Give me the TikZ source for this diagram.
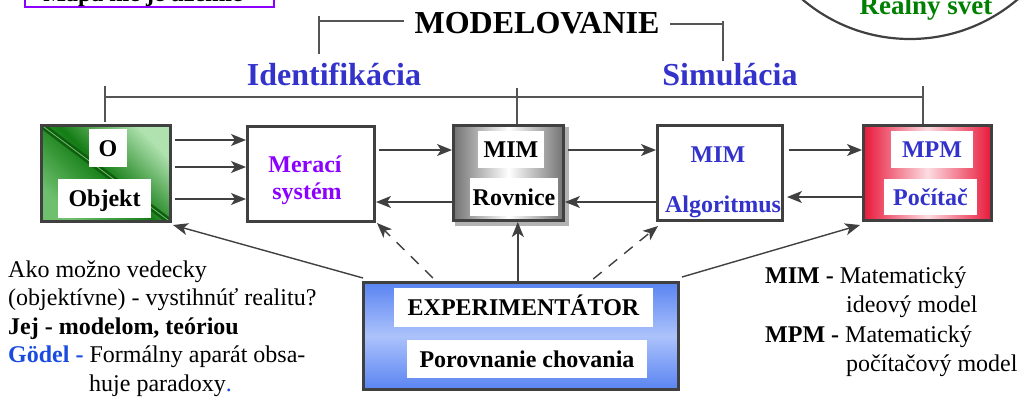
\documentclass[tikz,border=0pt]{standalone}
\usepackage{fontspec}
\setmainfont{Liberation Serif}
\usetikzlibrary{arrows.meta,calc}
\definecolor{edge}{RGB}{64,64,64}
\definecolor{lblue}{RGB}{51,51,204}
\definecolor{gblue}{RGB}{26,75,224}
\definecolor{purp}{RGB}{140,0,255}
\definecolor{rgreen}{RGB}{0,128,0}
\definecolor{gdark}{RGB}{20,125,20}
\definecolor{glight}{RGB}{176,226,176}
\definecolor{gmid}{RGB}{110,192,110}
\definecolor{mred}{RGB}{232,24,58}
\definecolor{eblue}{RGB}{90,132,242}
\definecolor{elight}{RGB}{172,194,251}
\definecolor{brkc}{RGB}{85,85,85}
\begin{document}
\begin{tikzpicture}[x=1pt,y=-1pt,
  box/.style={draw=edge, line width=3.2pt, inner sep=0pt},
  lbl/.style={fill=white, inner sep=0pt, text height=16pt, text depth=0pt,
    font=\fontsize{24}{28}\selectfont\bfseries},
  arr/.style={draw=edge, line width=1.4pt, -{Stealth[length=15pt,width=12pt,inset=4pt]}},
  dsh/.style={arr, dash pattern=on 11pt off 9pt},
  brk/.style={draw=brkc, line width=1.3pt},
  txt/.style={font=\fontsize{24}{28}\selectfont, inner sep=0pt, anchor=base west},
  head/.style={font=\fontsize{32}{36}\selectfont\bfseries, inner sep=0pt, anchor=base}]
\useasboundingbox (0,0) rectangle (1023,397);
\clip (0,0) rectangle (1023,397);

% top decorations (cut by the page, as in the reference)
\draw[purp, line width=2.5pt] (25,-30) rectangle (274,7);
\node[font=\fontsize{24}{28}\selectfont\bfseries, inner sep=0pt, anchor=base] (mapa) at (143,1) {Mapa nie je územie};
\draw[edge, line width=2.2pt] (910,-127) circle[radius=166pt];
\node[font=\fontsize{27}{30}\selectfont\bfseries, text=rgreen, inner sep=0pt, anchor=base] (svet) at (926,14) {Reálny svet};

% headings
\node[head] (model) at (537,33) {MODELOVANIE};
\draw[brk] (319,16) -- (319,54);
\draw[brk] (319,21) -- (404,21);
\draw[brk] (670,24) -- (723,24);
\draw[brk] (723,21) -- (723,61);
\node[head, text=lblue] (ident) at (334,85) {Identifikácia};
\node[head, text=lblue] (simul) at (730,85) {Simulácia};

% boxes
\node[box, minimum width=128.8, minimum height=95.8,
  top color=glight, bottom color=gmid, middle color=gdark, shading angle=-45] (o) at (106,173.5) {};
\begin{scope}
  \clip ($(o.north west)+(3.2,3.2)$) rectangle ($(o.south east)+(-3.2,-3.2)$);
  \draw[line width=6pt, gdark!75!black] (o.north west) -- (o.south east);
  \draw[line width=0.8pt, gmid] (o.north west) -- (o.south east);
\end{scope}
\node[lbl, minimum width=38, minimum height=38] (olbl) at (108,148) {O};
\node[lbl, minimum width=93, minimum height=39] (objlbl) at (104.5,198.5) {Objekt};

\node[box, minimum width=126.8, minimum height=94.8, fill=white] (mer) at (311,174) {};
\node[font=\fontsize{24}{28}\selectfont\bfseries, text=purp, inner sep=0pt, anchor=base] (mert1) at (305,172) {Merací};
\node[font=\fontsize{24}{28}\selectfont\bfseries, text=purp, inner sep=0pt, anchor=base] (mert2) at (307,199) {systém};

\fill[black!30] (455,127) rectangle (569,226);
\node[box, minimum width=109.8, minimum height=94.8,
  left color=black!55, right color=black!55, middle color=white] (mim) at (508.5,173) {};
\node[lbl, minimum width=66, minimum height=37] (mimlbl) at (511,149.5) {MIM};
\node[lbl, minimum width=88, minimum height=38] (rovlbl) at (514,197) {Rovnice};

\node[box, minimum width=124.8, minimum height=94.8, fill=white] (alg) at (720,173) {};
\node[font=\fontsize{24}{28}\selectfont\bfseries, text=lblue, inner sep=0pt, anchor=base] (algt1) at (718,162) {MIM};
\node[font=\fontsize{24}{28}\selectfont\bfseries, text=lblue, inner sep=0pt, anchor=base] (algt2) at (723,212) {Algoritmus};

\node[box, minimum width=127.8, minimum height=94.8,
  left color=mred, right color=mred, middle color=mred!15] (mpm) at (927.5,173) {};
\node[lbl, text=lblue, minimum width=82, minimum height=37] (mpmlbl) at (932,149.5) {MPM};
\node[lbl, text=lblue, minimum width=93, minimum height=36] (poclbl) at (930.5,197) {Počítač};

\node[box, minimum width=314.8, minimum height=106.8,
  top color=eblue, bottom color=eblue, middle color=elight] (exp) at (521,336) {};
\node[lbl, minimum width=259, minimum height=39] (explbl) at (523.5,307.5) {EXPERIMENTÁTOR};
\node[lbl, minimum width=240, minimum height=38] (porlbl) at (527,359) {Porovnanie chovania};

% bracket over the boxes
\draw[brk] (105,97) -- (923,97);
\draw[brk] (105,86) -- (105,122);
\draw[brk] (517,88) -- (517,124);
\draw[brk] (923,86) -- (923,124);

% horizontal arrows
\draw[arr] ($(o.east)+(3,-33.5)$) coordinate (a1) -- (a1 -| mer.west);
\draw[arr] ($(o.east)+(3,-6.5)$) coordinate (a2) -- (a2 -| mer.west);
\draw[arr] ($(o.east)+(3,25.5)$) coordinate (a3) -- (a3 -| mer.west);
\draw[arr] ($(mer.east)+(3,-24)$) coordinate (a4) -- (a4 -| mim.west);
\draw[arr] ($(mim.west)+(0,29)$) coordinate (a5) -- (a5 -| mer.east);
\draw[arr] ($(mim.east)+(3,-23)$) coordinate (a6) -- (a6 -| alg.west);
\draw[arr] ($(alg.west)+(0,29)$) coordinate (a7) -- (a7 -| mim.east);
\draw[arr] ($(alg.east)+(5,-23)$) coordinate (a8) -- (a8 -| mpm.west);
\draw[arr, shorten >=3pt] ($(mpm.west)+(0,24)$) coordinate (a9) -- (a9 -| alg.east);

% arrows from the experimenter
\draw[arr] ($(exp.north west)+(1,-3)$) -- ($(o.south east)+(1,2)$);
\draw[dsh] ($(exp.north west)!0.223!(exp.north east)+(0,-3)$) -- ($(mer.south east)+(1,0)$);
\draw[arr] ($(exp.north west)!0.49!(exp.north east)$) coordinate (v0) -- (v0 |- mim.south);
\draw[dsh] ($(exp.north west)!0.727!(exp.north east)+(0,-2)$) -- ($(alg.south west)+(2,4)$);
\draw[arr] ($(exp.north east)+(2,-4)$) -- ($(mpm.south west)+(-2,3)$);

% left text
\node[txt] (t1) at (8,277) {Ako možno vedecky};
\node[txt] (t2) at (8,305.5) {(objektívne) - vystihnúť realitu?};
\node[txt] (t3) at (8,334) {\bfseries Jej - modelom, teóriou};
\node[txt] (t4) at (8,362.5) {\textcolor{gblue}{\bfseries Gödel -} Formálny aparát obsa-};
\node[txt] (t5) at (89,391) {huje paradoxy\textcolor{gblue}{.}};

% right legend
\node[txt] (r1) at (765,283) {\textbf{MIM -} Matematický};
\node[txt] (r2) at (846,312) {ideový model};
\node[txt] (r3) at (765,342) {\textbf{MPM -} Matematický};
\node[txt] (r4) at (846,371) {počítačový model};
\end{tikzpicture}
\end{document}
